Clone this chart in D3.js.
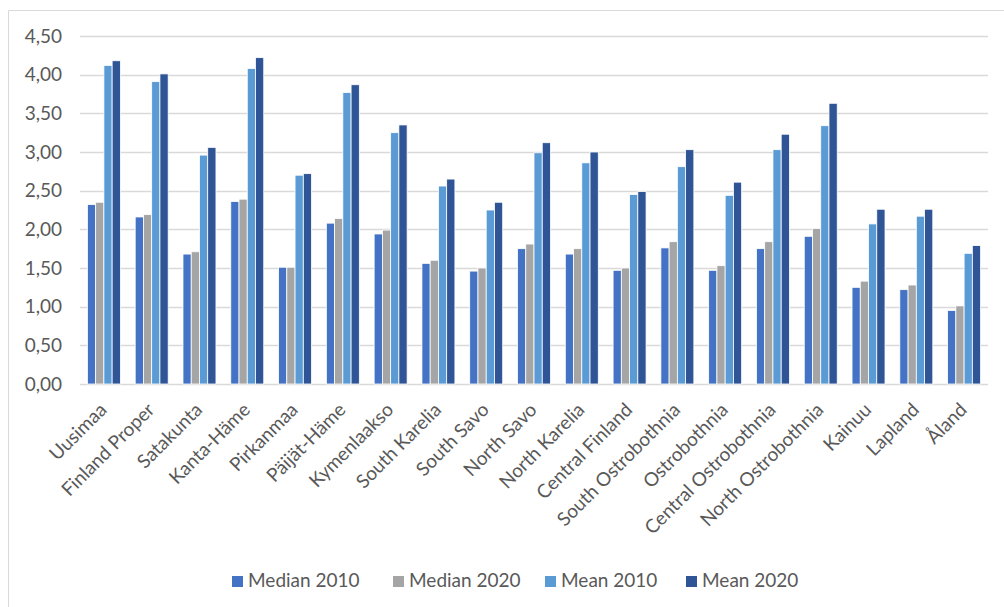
<!DOCTYPE html>
<html><head><meta charset="utf-8">
<script src="https://cdn.jsdelivr.net/npm/d3@7"></script>
<style>
html,body{margin:0;padding:0;background:#fff;}
svg{display:block;}
text{font-family:Lato,"Open Sans",sans-serif;fill:#595959;}
</style></head>
<body>
<svg id="chart" width="1004" height="607"></svg>
<script>
const categories = ["Uusimaa","Finland Proper","Satakunta","Kanta-Häme","Pirkanmaa","Päijät-Häme","Kymenlaakso","South Karelia","South Savo","North Savo","North Karelia","Central Finland","South Ostrobothnia","Ostrobothnia","Central Ostrobothnia","North Ostrobothnia","Kainuu","Lapland","Åland"];
const seriesNames = ["Median 2010","Median 2020","Mean 2010","Mean 2020"];
const median2010 = [2.32,2.16,1.68,2.36,1.51,2.08,1.94,1.56,1.46,1.75,1.68,1.47,1.76,1.47,1.75,1.91,1.25,1.22,0.95];
const median2020 = [2.35,2.19,1.71,2.39,1.51,2.14,1.99,1.60,1.50,1.81,1.75,1.50,1.84,1.53,1.84,2.01,1.33,1.28,1.01];
const mean2010   = [4.12,3.91,2.96,4.08,2.70,3.77,3.25,2.56,2.25,2.99,2.86,2.45,2.81,2.44,3.03,3.34,2.07,2.17,1.69];
const mean2020   = [4.18,4.01,3.06,4.22,2.72,3.87,3.35,2.65,2.35,3.12,3.00,2.49,3.03,2.61,3.23,3.63,2.26,2.26,1.79];
const yTicks = [0,0.5,1,1.5,2,2.5,3,3.5,4,4.5];
const colors = ["#4472C4","#A5A5A5","#5B9BD5","#2F5597"];
const seriesValues = [median2010, median2020, mean2010, mean2020];

const svg = d3.select("#chart");
svg.append("path").attr("d","M8.5,607 V10.5 H1004").attr("fill","none").attr("stroke","#D9D9D9").attr("stroke-width",1);

const mLeft = 80, mRight = 988, mTop = 36, mBottom = 384;
const y = d3.scaleLinear().domain([0,4.5]).range([mBottom, mTop]);
const x0 = d3.scaleBand().domain(categories).range([mLeft, mRight]).padding(0);
const bw = x0.bandwidth();
const gap = bw * 0.31;
const x1 = d3.scaleBand().domain(seriesNames).range([gap/2, bw - gap/2]).padding(0);

const fmt = v => v.toFixed(2).replace(".", ",");
svg.append("g").selectAll("line").data(yTicks).join("line")
  .attr("x1", mLeft).attr("x2", mRight)
  .attr("y1", d => Math.round(y(d)) + 0.5).attr("y2", d => Math.round(y(d)) + 0.5)
  .attr("stroke", "#D9D9D9").attr("stroke-width", 1.4);

svg.append("g").selectAll("text").data(yTicks).join("text")
  .attr("x", 62).attr("y", d => y(d)).attr("dy","0.35em")
  .attr("text-anchor","end").attr("font-size", 19)
  .text(fmt);

const groups = svg.append("g").selectAll("g").data(categories).join("g")
  .attr("transform", d => `translate(${x0(d)},0)`);
groups.selectAll("rect").data((d,i) => seriesNames.map((s,j) => ({s, v: seriesValues[j][i], c: colors[j]})))
  .join("rect")
  .attr("x", d => x1(d.s)).attr("width", x1.bandwidth())
  .attr("y", d => y(d.v)).attr("height", d => y(0) - y(d.v))
  .attr("fill", d => d.c).attr("stroke", "#fff").attr("stroke-width", 0.8);

svg.append("g").selectAll("text").data(categories).join("text")
  .attr("transform", d => `translate(${x0(d) + bw/2 + 4},${mBottom + 27}) rotate(-45)`)
  .attr("text-anchor","end").attr("font-size", 19)
  .text(d => d);

const legendX = [232, 393, 545, 686];
const lg = svg.append("g").selectAll("g").data(seriesNames).join("g")
  .attr("transform", (d,i) => `translate(${legendX[i]},0)`);
lg.append("rect").attr("x",0).attr("y",576).attr("width",11).attr("height",11).attr("fill",(d,i)=>colors[i]);
lg.append("text").attr("x",16).attr("y",587).attr("font-size",19).text(d=>d);
</script>
</body></html>
